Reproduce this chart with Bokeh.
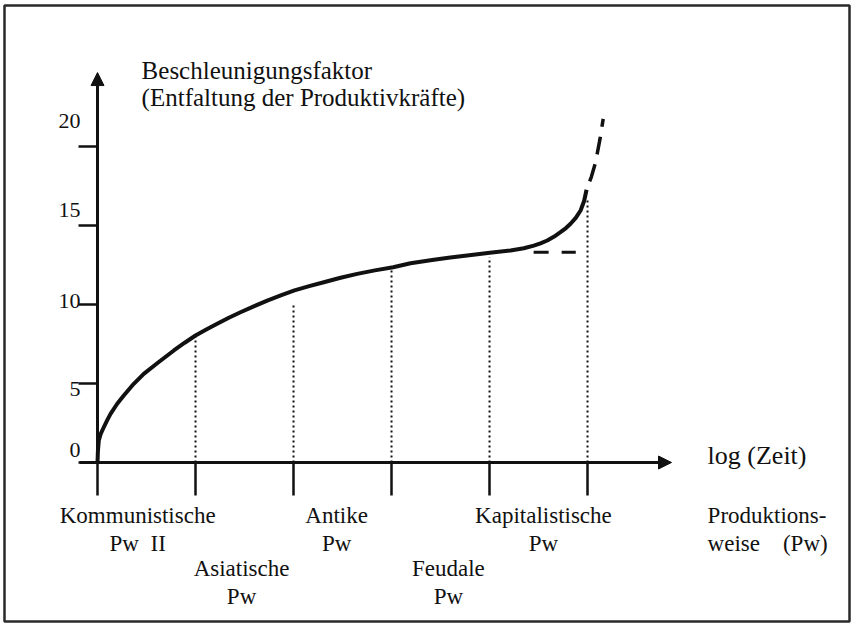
from bokeh.plotting import figure
from bokeh.models import Range1d, FixedTicker, Arrow, NormalHead, LinearAxis
from bokeh.core.properties import value
from bokeh.embed import file_html
from bokeh.resources import INLINE

# ---------------- data ----------------
mode_ticks = [0, 1, 2, 3, 4, 5]                      # log(Zeit) positions of the modes
mode_names = ["Kommunistische", "Asiatische", "Antike", "Feudale", "Kapitalistische"]
mode_suffix = ["Pw\u00a0\u00a0II", "Pw", "Pw", "Pw", "Pw"]

curve_x = [0.0, 0.004, 0.013, 0.035, 0.064, 0.098, 0.133, 0.201, 0.268, 0.370, 0.472,
           0.609, 0.779, 0.890, 1.0, 1.110, 1.221, 1.340, 1.459, 1.600, 1.732, 1.870,
           2.010, 2.160, 2.309, 2.480, 2.650, 2.830, 3.017, 3.194, 3.432,
           3.600, 3.772, 4.003, 4.214, 4.350, 4.452, 4.520, 4.589, 4.660, 4.724,
           4.780, 4.827, 4.880, 4.929, 4.965, 4.990]
curve_y = [0.0, 0.70, 1.39, 1.85, 2.23, 2.67, 3.08, 3.72, 4.24, 4.98, 5.61,
           6.28, 7.09, 7.58, 8.04, 8.42, 8.78, 9.16, 9.51, 9.90, 10.25, 10.58,
           10.89, 11.16, 11.41, 11.69, 11.94, 12.16, 12.36, 12.61, 12.83,
           12.97, 13.10, 13.27, 13.42, 13.56, 13.73, 13.87, 14.05, 14.30, 14.58,
           14.84, 15.11, 15.48, 15.95, 16.55, 17.26]
ext_x = [4.990, 5.040, 5.082, 5.125, 5.160]
ext_y = [17.26, 18.10, 19.00, 20.40, 21.75]
plateau_x = [4.45, 4.88]
plateau_y = [13.3, 13.3]
drop_top = [8.04, 9.94, 12.15, 12.99, 16.58]          # dotted verticals at ticks 1..5

y_ticks = [0, 5, 10, 15, 20]
y_tick_labels = ["0", "5", "10", "15", "20"]

title_lines = ["Beschleunigungsfaktor", "(Entfaltung der Produktivkräfte)"]
x_title = "log (Zeit)"
pw_title = ["Produktions-", "weise\u00a0\u00a0\u00a0\u00a0(Pw)"]

# ---------------- layout ----------------
FONT = "Liberation Serif"
INK = "#111111"
y_label_pos = [0.82, 4.68, 10.25, 15.95, 21.6]       # hand-drawn label placement
label_x = [0.41, 1.47, 2.44, 3.58, 4.55]
label_row = [0, 1, 0, 1, 0]
row_base = [-3.35, -6.71]
row_step = 1.77
y_top = 24.68
x_left, x_right = -0.18, 5.857

p = figure(width=852, height=626,
           x_range=Range1d(-0.949, 7.673), y_range=Range1d(-10.063, 28.924),
           output_backend="svg", toolbar_location=None,
           min_border_left=4, min_border_right=3, min_border_top=5, min_border_bottom=5,
           x_axis_type=None, y_axis_type=None)
p.grid.visible = False
p.outline_line_color = "#2a2a2a"
p.outline_line_width = 2.5
p.background_fill_color = "white"
p.border_fill_color = "white"

# x axis ticks (downward)
xa = LinearAxis(fixed_location=0, ticker=FixedTicker(ticks=mode_ticks),
                major_tick_out=33, major_tick_in=0, major_tick_line_width=2.5,
                major_tick_line_color=INK, axis_line_color=None,
                minor_tick_line_color=None, major_label_text_alpha=0)
p.add_layout(xa, "below")

# y axis ticks (leftward)
ya = LinearAxis(fixed_location=0, ticker=FixedTicker(ticks=y_ticks),
                major_tick_out=19, major_tick_in=0, major_tick_line_width=2.5,
                major_tick_line_color=INK, axis_line_color=None,
                minor_tick_line_color=None, major_label_text_alpha=0)
p.add_layout(ya, "left")

# y tick labels as placed by hand in the original
yl = LinearAxis(fixed_location=0, ticker=FixedTicker(ticks=y_label_pos),
                major_tick_line_color=None, major_tick_out=0, major_tick_in=0,
                axis_line_color=None, minor_tick_line_color=None,
                major_label_standoff=17,
                major_label_overrides={pos: lab for pos, lab in zip(y_label_pos, y_tick_labels)},
                major_label_text_font=FONT, major_label_text_font_size="22px",
                major_label_text_color=INK)
p.add_layout(yl, "left")

# axis lines with arrow heads
p.add_layout(Arrow(end=NormalHead(size=13, fill_color=INK, line_color=INK),
                   x_start=0, y_start=0, x_end=0, y_end=y_top,
                   line_width=3, line_color=INK))
p.add_layout(Arrow(end=NormalHead(size=13, fill_color=INK, line_color=INK),
                   x_start=x_left, y_start=0, x_end=x_right, y_end=0,
                   line_width=3, line_color=INK))

# dotted verticals
p.segment(x0=mode_ticks[1:], y0=[0] * 5, x1=mode_ticks[1:], y1=drop_top,
          line_color=INK, line_width=2, line_dash="2 3")

# curve
p.line(curve_x, curve_y, line_color=INK, line_width=4, line_join="round")
p.line(ext_x, ext_y, line_color=INK, line_width=3.5, line_dash="18 10", line_dash_offset=19)
p.line(plateau_x, plateau_y, line_color=INK, line_width=3, line_dash="15 13")

txt = dict(text_font=value(FONT), text_color=INK, text_baseline="alphabetic")

# titles
p.text(x=[0.45, 0.45], y=[24.81, 23.10], text=title_lines,
       text_font_size=value("25px"), text_align="left", **txt)
p.text(x=[6.225], y=[0.44], text=[x_title],
       text_font_size=value("26px"), text_align="left", **txt)
p.text(x=[6.225, 6.225], y=[-3.35, -5.12], text=pw_title,
       text_font_size=value("23px"), text_align="left", **txt)

# mode of production labels
ly1 = [row_base[r] for r in label_row]
ly2 = [row_base[r] - row_step for r in label_row]
p.text(x=label_x, y=ly1, text=mode_names,
       text_font_size=value("23px"), text_align="center", **txt)
p.text(x=label_x, y=ly2, text=mode_suffix,
       text_font_size=value("23px"), text_align="center", **txt)

open("out.html", "w").write(file_html(p, INLINE))
